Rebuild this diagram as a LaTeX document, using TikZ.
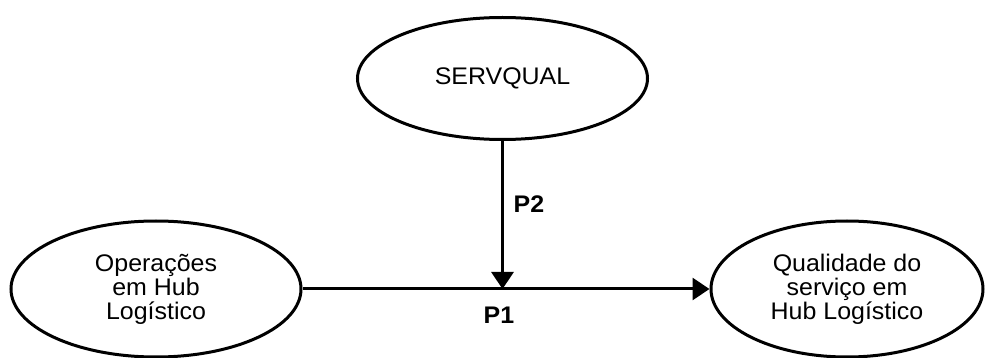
\documentclass[tikz,border=0pt]{standalone}
\usepackage{fontspec}
\setmainfont{Liberation Sans}[FakeStretch=1.04]
\usetikzlibrary{shapes.geometric,arrows.meta}
\begin{document}
\begin{tikzpicture}[x=0.5pt,y=-0.5pt,
  oval/.style={draw=black,line width=1.5pt,ellipse,inner sep=0pt,align=center,
    font=\fontsize{12}{12}\selectfont},
  link/.style={line width=1.5pt,-{Triangle[length=8.5pt,width=11pt]}},
  plabel/.style={font=\fontsize{12}{12}\selectfont\bfseries,inner sep=0pt}]
\useasboundingbox (0,0) rectangle (987,358);
\node[oval,minimum width=145pt,minimum height=61pt] (S) at (502.5,78.5) {SERVQUAL};
\node[oval,minimum width=145pt,minimum height=68pt] (L) at (156,289) {Operações\\em Hub\\Logístico};
\node[oval,minimum width=136pt,minimum height=68pt] (R) at (847,289) {Qualidade do\\serviço em\\Hub Logístico};
\coordinate (J) at (S.south |- L.east);
\draw[link] (L.east) -- (R.west);
\draw[link] (S.south) -- (J);
\node[plabel] (P2) at (529,204) {P2};
\node[plabel] (P1) at (499,315) {P1};
\end{tikzpicture}
\end{document}
